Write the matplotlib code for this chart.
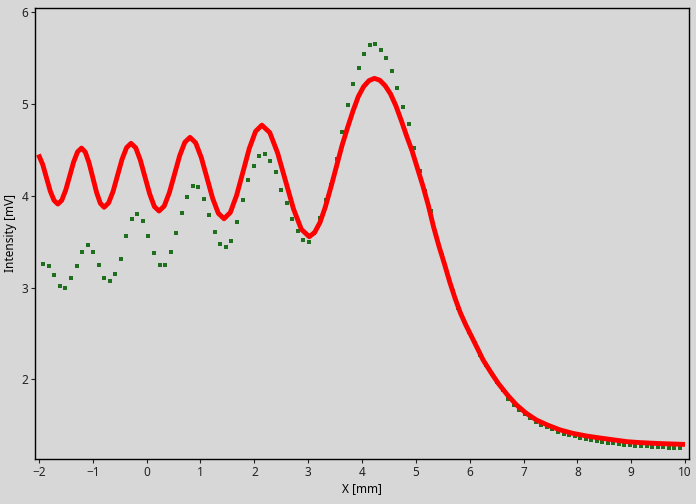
import matplotlib
matplotlib.use("Agg")
import matplotlib.pyplot as plt

red_x = [-2.01, -1.93, -1.86, -1.79, -1.72, -1.65,
         -1.577, -1.503, -1.43, -1.357, -1.283, -1.21,
         -1.14, -1.07, -1.00, -0.93, -0.86, -0.79,
         -0.707, -0.623, -0.54, -0.457, -0.373, -0.29,
         -0.203, -0.117, -0.03, 0.057, 0.143, 0.23,
         0.326, 0.422, 0.518, 0.613, 0.709, 0.805,
         0.910, 1.016, 1.121, 1.226, 1.332, 1.437,
         1.554, 1.671, 1.789, 1.906, 2.023, 2.14,
         2.287, 2.433, 2.58, 2.727, 2.873, 3.02,
         3.12, 3.22, 3.32, 3.43, 3.53, 3.63, 3.73, 3.83, 3.93, 4.03, 4.13, 4.23,
         4.33, 4.43, 4.53, 4.63, 4.73, 4.83, 4.93, 5.03, 5.13, 5.23, 5.33, 5.43,
         5.53, 5.63, 5.73, 5.83, 5.93, 6.04, 6.15, 6.25, 6.40, 6.53, 6.70, 6.87,
         7.05, 7.24, 7.45, 7.68, 7.92, 8.17, 8.42, 8.67, 8.92, 9.16, 9.50, 10.0]
red_y = [4.45, 4.34, 4.195, 4.05, 3.95, 3.91,
         3.951, 4.063, 4.215, 4.368, 4.479, 4.52,
         4.477, 4.359, 4.198, 4.036, 3.918, 3.875,
         3.922, 4.049, 4.224, 4.398, 4.525, 4.572,
         4.523, 4.388, 4.203, 4.019, 3.883, 3.834,
         3.888, 4.035, 4.236, 4.436, 4.583, 4.637,
         4.578, 4.415, 4.194, 3.972, 3.809, 3.75,
         3.818, 4.005, 4.26, 4.515, 4.702, 4.77,
         4.689, 4.466, 4.162, 3.858, 3.635, 3.554,
         3.60, 3.71, 3.88, 4.11, 4.33, 4.55, 4.74, 4.92, 5.08, 5.19, 5.255, 5.28,
         5.26, 5.20, 5.11, 4.98, 4.82, 4.65, 4.49, 4.30, 4.11, 3.90, 3.66, 3.45,
         3.26, 3.06, 2.88, 2.72, 2.59, 2.46, 2.33, 2.21, 2.07, 1.956, 1.83, 1.72,
         1.63, 1.556, 1.50, 1.448, 1.41, 1.382, 1.36, 1.34, 1.32, 1.31, 1.30, 1.29]

# green dotted points
green_x = [-1.920, -1.817, -1.714, -1.612, -1.509, -1.406, -1.303, -1.200, -1.098, -0.995,
           -0.892, -0.789, -0.686, -0.584, -0.481, -0.378, -0.275, -0.172, -0.070, 0.033,
           0.136, 0.239, 0.342, 0.444, 0.547, 0.650, 0.753, 0.856, 0.958, 1.061,
           1.164, 1.267, 1.370, 1.472, 1.575, 1.678, 1.781, 1.884, 1.986, 2.089,
           2.192, 2.295, 2.398, 2.500, 2.603, 2.706, 2.809, 2.912, 3.014, 3.117,
           3.220, 3.323, 3.426, 3.528, 3.631, 3.734, 3.837, 3.940, 4.042, 4.145,
           4.248, 4.351, 4.454, 4.556, 4.659, 4.762, 4.865, 4.968, 5.070, 5.173,
           5.276, 5.379, 5.482, 5.584, 5.687, 5.790, 5.893, 5.996, 6.098, 6.201,
           6.304, 6.407, 6.510, 6.612, 6.715, 6.818, 6.921, 7.024, 7.126, 7.229,
           7.332, 7.435, 7.538, 7.640, 7.743, 7.846, 7.949, 8.052, 8.154, 8.257,
           8.360, 8.463, 8.566, 8.668, 8.771, 8.874, 8.977, 9.080, 9.182, 9.285,
           9.388, 9.491, 9.594, 9.696, 9.799, 9.902]
green_y = [3.257, 3.235, 3.137, 3.02, 2.995, 3.104, 3.235, 3.384, 3.464, 3.384,
           3.246, 3.104, 3.068, 3.148, 3.311, 3.562, 3.747, 3.80, 3.725, 3.562,
           3.373, 3.246, 3.246, 3.384, 3.59, 3.81, 3.984, 4.11, 4.10, 3.97,
           3.787, 3.60, 3.475, 3.439, 3.504, 3.711, 3.951, 4.169, 4.32, 4.43,
           4.452, 4.376, 4.256, 4.06, 3.918, 3.744, 3.613, 3.515, 3.493, 3.59,
           3.76, 3.95, 4.12, 4.40, 4.70, 4.986, 5.215, 5.39, 5.55, 5.647,
           5.658, 5.587, 5.50, 5.355, 5.17, 4.97, 4.78, 4.52, 4.27, 4.05,
           3.83, 3.56, 3.35, 3.16, 2.96, 2.78, 2.64, 2.51, 2.39, 2.27,
           2.16, 2.06, 1.97, 1.88, 1.785, 1.72, 1.662, 1.618, 1.575, 1.531,
           1.502, 1.477, 1.455, 1.429, 1.407, 1.393, 1.379, 1.364, 1.349, 1.338,
           1.328, 1.317, 1.309, 1.302, 1.295, 1.287, 1.284, 1.276, 1.273, 1.27,
           1.266, 1.262, 1.259, 1.255, 1.251, 1.248]

x_ticks = [-2, -1, 0, 1, 2, 3, 4, 5, 6, 7, 8, 9, 10]
y_ticks = [2, 3, 4, 5, 6]

bg = "#d7d7d7"
plt.rcParams["font.family"] = ["Noto Sans", "DejaVu Sans"]

fig = plt.figure(figsize=(6.96, 5.04), dpi=100, facecolor=bg)
ax = fig.add_axes([35 / 696, 45 / 504, 654 / 696, 451 / 504])
ax.set_facecolor(bg)

ax.plot(green_x, green_y, linestyle="none", marker="s", markersize=2.6,
        color="#1f6f1f", markeredgewidth=0)
ax.plot(red_x, red_y, color="#ff0000", linewidth=3.5,
        solid_joinstyle="round", solid_capstyle="butt")

ax.set_xlim(-2.074, 10.074)
ax.set_ylim(1.131, 6.047)
ax.set_xticks(x_ticks)
ax.set_yticks(y_ticks)
ax.tick_params(labelsize=8.5, length=3, width=0.8, pad=2, colors="#222222")
for s in ax.spines.values():
    s.set_linewidth(1.0)
    s.set_color("black")

ax.set_xlabel("X [mm]", fontsize=8.5, labelpad=2)
ax.set_ylabel("Intensity [mV]", fontsize=8.5, labelpad=3)

fig.savefig("out.png", dpi=100, facecolor=bg)
